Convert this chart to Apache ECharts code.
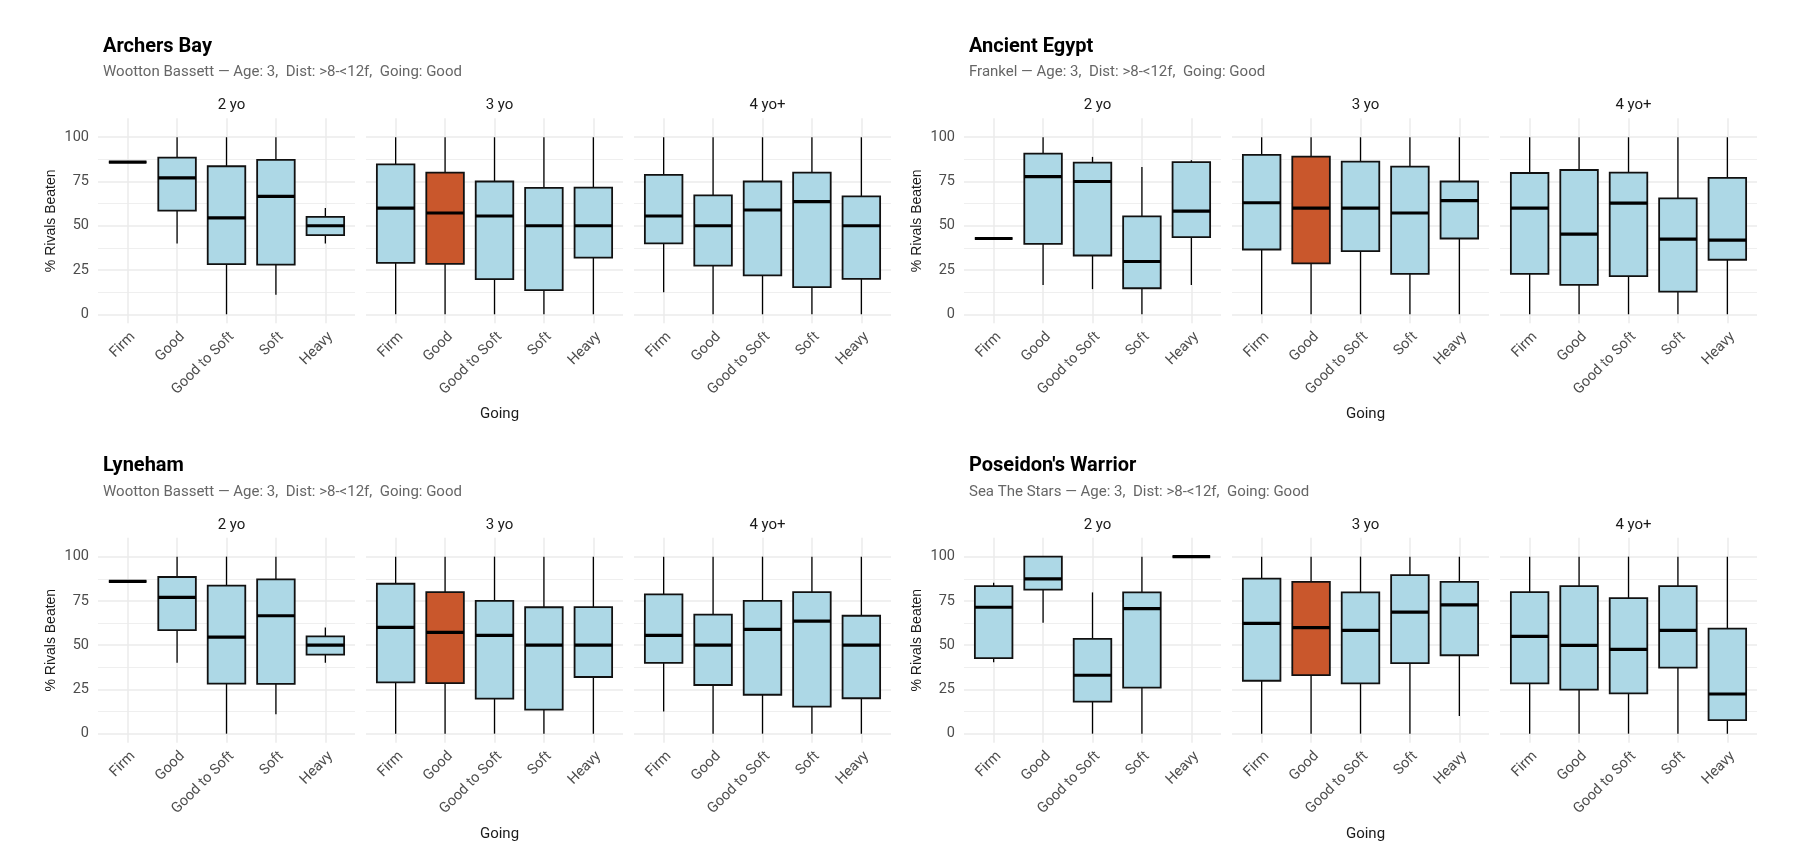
<!DOCTYPE html>
<html lang="en">
<head>
<meta charset="UTF-8">
<title>% Rivals Beaten by Going</title>
<script src="https://cdn.jsdelivr.net/npm/echarts@6/dist/echarts.min.js"></script>
<style>
    html, body { margin: 0; padding: 0; background: #ffffff; }
    #main { width: 1819px; height: 859px; }
</style>
</head>
<body>
<div id="main"></div>

<script type="text/javascript">
    var goings = ['Firm', 'Good', 'Good to Soft', 'Soft', 'Heavy'];
    var ageGroups = ['2 yo', '3 yo', '4 yo+'];
    var yTicks = [0, 25, 50, 75, 100];
    var yMinorTicks = [12.5, 37.5, 62.5, 87.5];
    var highlightAge = '3 yo';
    var highlightGoing = 'Good';

    // one row per going: [min, q1, median, q3, max]
    var archersBay2 = [[86, 86, 86, 86, 86], [40, 58.5, 77, 88.5, 100], [0, 28.3, 54.5, 83.6, 100], [11, 28.1, 66.6, 87.2, 100], [40, 44.7, 50, 55, 60]];
    var archersBay3 = [[0, 29, 60, 84.7, 100], [0, 28.5, 57.2, 80, 100], [0, 19.8, 55.5, 75, 100], [0, 13.6, 50, 71.4, 100], [0, 32, 50, 71.5, 100]];
    var archersBay4 = [[12.5, 40, 55.5, 78.7, 100], [0, 27.5, 50, 67.2, 100], [0, 22, 58.9, 75, 100], [0, 15.3, 63.6, 80, 100], [0, 20, 50, 66.6, 100]];

    var ancientEgypt2 = [[42.8, 42.8, 42.8, 42.8, 42.8], [16.6, 39.8, 77.7, 90.8, 100], [14.2, 33.2, 75, 85.7, 88.9], [0, 14.7, 29.8, 55.3, 83.2], [16.6, 43.6, 58.3, 86, 87]];
    var ancientEgypt3 = [[0, 36.6, 63, 90, 100], [0, 28.7, 60, 89, 100], [0, 35.7, 60, 86.2, 100], [0, 22.8, 57.2, 83.4, 100], [0, 42.8, 64.2, 75, 100]];
    var ancientEgypt4 = [[0, 22.8, 60, 79.8, 100], [0, 16.6, 45.3, 81.5, 100], [0, 21.5, 62.8, 80, 100], [0, 12.8, 42.5, 65.5, 100], [0, 30.8, 41.9, 77, 100]];

    var lyneham2 = [[86, 86, 86, 86, 86], [40, 58.5, 77, 88.5, 100], [0, 28.3, 54.5, 83.6, 100], [11, 28.1, 66.6, 87.2, 100], [40, 44.7, 50, 55, 60]];
    var lyneham3 = [[0, 29, 60, 84.7, 100], [0, 28.5, 57.2, 80, 100], [0, 19.8, 55.5, 75, 100], [0, 13.6, 50, 71.4, 100], [0, 32, 50, 71.5, 100]];
    var lyneham4 = [[12.5, 40, 55.5, 78.7, 100], [0, 27.5, 50, 67.2, 100], [0, 22, 58.9, 75, 100], [0, 15.3, 63.6, 80, 100], [0, 20, 50, 66.6, 100]];

    var poseidon2 = [[40.3, 42.7, 71.4, 83.4, 85.3], [62.7, 81.4, 87.4, 100, 100], [0, 18.1, 33, 53.5, 79.8], [0, 26, 70.6, 79.8, 100], [100, 100, 100, 100, 100]];
    var poseidon3 = [[0, 29.9, 62.3, 87.6, 100], [0, 33.1, 59.9, 85.7, 100], [0, 28.4, 58.4, 79.8, 100], [0, 39.9, 68.7, 89.6, 100], [10, 44.3, 72.7, 85.7, 100]];
    var poseidon4 = [[0, 28.4, 55, 80, 100], [0, 24.9, 49.9, 83.4, 100], [0, 22.8, 47.6, 76.6, 100], [0, 37.3, 58.4, 83.4, 100], [0, 7.7, 22.4, 59.3, 100]];

    var horseNames = ['Archers Bay', 'Ancient Egypt', 'Lyneham', "Poseidon's Warrior"];
    var subtitles = [
        'Wootton Bassett \u2014 Age: 3,  Dist: >8-<12f,  Going: Good',
        'Frankel \u2014 Age: 3,  Dist: >8-<12f,  Going: Good',
        'Wootton Bassett \u2014 Age: 3,  Dist: >8-<12f,  Going: Good',
        'Sea The Stars \u2014 Age: 3,  Dist: >8-<12f,  Going: Good'
    ];
    var horseBoxes = [
        [archersBay2, archersBay3, archersBay4],
        [ancientEgypt2, ancientEgypt3, ancientEgypt4],
        [lyneham2, lyneham3, lyneham4],
        [poseidon2, poseidon3, poseidon4]
    ];

    // layout (pixels)
    var chartOrigin = [[0, 0], [866, 0], [0, 419.4], [866, 419.4]];
    var panelLeft = [98, 366, 634];
    var panelWidth = 257;
    var panelTop = 118.3;
    var panelHeight = 205;
    var boxWidth = 0.76;

    var lightBlue = '#add8e6';
    var rust = '#c9572c';
    var gridColor = '#ebebeb';

    function makeBoxRenderer(age) {
        return function (params, api) {
            var xi = api.value(0);
            var unit = api.size([1, 0])[0];
            var half = unit * boxWidth / 2;
            var cx = api.coord([xi, 0])[0];
            var yLo = api.coord([xi, api.value(1)])[1];
            var yQ1 = api.coord([xi, api.value(2)])[1];
            var yMed = api.coord([xi, api.value(3)])[1];
            var yQ3 = api.coord([xi, api.value(4)])[1];
            var yHi = api.coord([xi, api.value(5)])[1];
            var fill = (age === highlightAge && goings[xi] === highlightGoing) ? rust : lightBlue;
            return {
                type: 'group',
                children: [
                    {type: 'line', shape: {x1: cx, y1: yHi, x2: cx, y2: yQ3}, style: {stroke: '#000', lineWidth: 1.3}},
                    {type: 'line', shape: {x1: cx, y1: yQ1, x2: cx, y2: yLo}, style: {stroke: '#000', lineWidth: 1.3}},
                    {
                        type: 'rect',
                        shape: {x: cx - half, y: yQ3, width: half * 2, height: yQ1 - yQ3},
                        style: {fill: fill, stroke: '#111', lineWidth: 1.8}
                    },
                    {type: 'line', shape: {x1: cx - half, y1: yMed, x2: cx + half, y2: yMed}, style: {stroke: '#000', lineWidth: 3.2}}
                ]
            };
        };
    }

    var grids = [], xAxes = [], yAxes = [], series = [], titles = [];

    horseNames.forEach(function (horse, h) {
        var ox = chartOrigin[h][0], oy = chartOrigin[h][1];

        titles.push({
            text: horse, left: ox + 98, top: oy + 31.5,
            textStyle: {fontFamily: 'Roboto', fontWeight: 'bold', fontSize: 20, lineHeight: 20, color: '#000'}
        });
        titles.push({
            text: subtitles[h], left: ox + 98, top: oy + 60,
            textStyle: {fontFamily: 'Roboto', fontWeight: 'normal', fontSize: 15, lineHeight: 15, color: '#666666'}
        });
        titles.push({
            text: 'Going', left: ox + 494.5, top: oy + 402,
            textAlign: 'center',
            textStyle: {fontFamily: 'Roboto', fontWeight: 'normal', fontSize: 15, lineHeight: 15, color: '#1a1a1a'}
        });

        ageGroups.forEach(function (age, p) {
            var k = grids.length;
            var left = ox + panelLeft[p];
            grids.push({left: left, top: oy + panelTop, width: panelWidth, height: panelHeight, outerBoundsMode: 'none'});

            titles.push({
                text: age, left: left + panelWidth / 2, top: oy + 93, textAlign: 'center',
                textStyle: {fontFamily: 'Roboto', fontWeight: 'normal', fontSize: 15, lineHeight: 15, color: '#1a1a1a'}
            });

            xAxes.push({
                type: 'value', gridIndex: k, min: -0.6, max: 4.6,
                axisLine: {show: false},
                axisTick: {show: false, customValues: [0, 1, 2, 3, 4]},
                splitLine: {show: true, lineStyle: {color: gridColor, width: 1.5}},
                axisLabel: {
                    customValues: [0, 1, 2, 3, 4],
                    rotate: 45, margin: 6, verticalAlign: 'top',
                    fontFamily: 'Roboto', fontSize: 14.5, color: '#4d4d4d',
                    formatter: function (v) { return goings[Math.round(v)]; }
                }
            });

            yAxes.push({
                type: 'value', gridIndex: k, min: -5.1, max: 110.7,
                name: p === 0 ? '% Rivals Beaten' : '',
                nameLocation: 'middle', nameRotate: 90, nameGap: 40,
                nameTextStyle: {fontFamily: 'Liberation Sans', fontSize: 14, color: '#1a1a1a'},
                axisLine: {show: false},
                axisTick: {show: false, customValues: yTicks},
                splitLine: {show: true, lineStyle: {color: gridColor, width: 1.5}},
                axisLabel: {
                    show: p === 0, customValues: yTicks, margin: 9,
                    fontFamily: 'Roboto', fontSize: 14.5, color: '#4d4d4d'
                }
            });
            yAxes.push({
                type: 'value', gridIndex: k, min: -5.1, max: 110.7,
                axisLine: {show: false},
                axisTick: {show: false, customValues: yMinorTicks},
                axisLabel: {show: false},
                splitLine: {show: true, lineStyle: {color: gridColor, width: 0.8}}
            });

            series.push({
                type: 'custom',
                xAxisIndex: k,
                yAxisIndex: 2 * k,
                renderItem: makeBoxRenderer(age),
                encode: {x: 0, y: [1, 2, 3, 4, 5]},
                data: horseBoxes[h][p].map(function (row, i) { return [i].concat(row); }),
                silent: true,
                clip: false
            });
        });
    });

    var myChart = echarts.init(document.getElementById('main'));
    myChart.setOption({
        backgroundColor: '#ffffff',
        animation: false,
        title: titles,
        grid: grids,
        xAxis: xAxes,
        yAxis: yAxes,
        series: series
    });
</script>
</body>
</html>
